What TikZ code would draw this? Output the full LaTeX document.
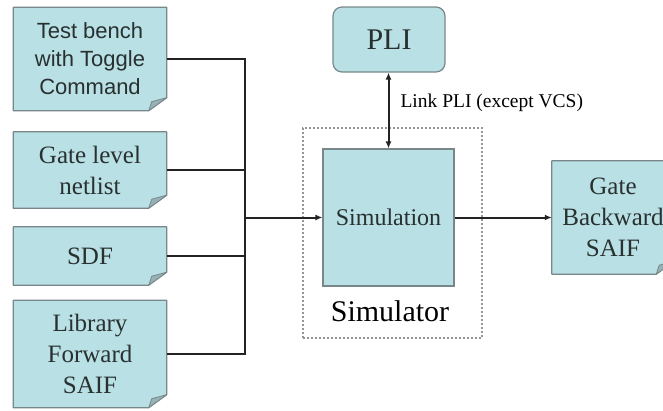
\documentclass[tikz,border=0pt]{standalone}
\usepackage{fontspec}
\setmainfont{Liberation Serif}
\newfontfamily\boxsans{Liberation Sans}
\usetikzlibrary{arrows.meta,calc,backgrounds}

\definecolor{docfill}{RGB}{185,224,228}
\definecolor{docedge}{RGB}{120,136,138}
\definecolor{foldfill}{RGB}{150,178,182}
\definecolor{wirecol}{RGB}{35,35,35}
\definecolor{frameedge}{RGB}{150,150,150}
\definecolor{textcol}{RGB}{40,48,48}

\tikzset{
  docnode/.style={minimum width=153pt, inner sep=0pt, align=center, text=textcol,
                  font=\fontsize{25}{31}\selectfont},
  docline/.style={draw=docedge, line width=1.2pt, fill=docfill, line join=round},
  foldline/.style={draw=docedge, line width=0.8pt, fill=foldfill, line join=round},
  simbox/.style={draw=docedge, line width=1.2pt, fill=docfill, inner sep=0pt,
                 text=textcol, font=\fontsize{24}{28}\selectfont},
  wire/.style={draw=wirecol, line width=2.4pt},
  arrowwire/.style={wire, line width=2pt, -{Latex[length=7pt,width=6pt]}},
  frame/.style={draw=frameedge, line width=1.1pt, dash pattern=on 2pt off 2pt}
}

\begin{document}
\begin{tikzpicture}[x=1pt,y=-1pt]
  \useasboundingbox (0,0) rectangle (663,410);

  % input documents
  \node[docnode, minimum height=103pt,
        font=\boxsans\fontsize{22}{28}\selectfont] (b1) at (90,59)
        {Test bench\\with Toggle\\Command};
  \node[docnode, minimum height=76pt] (b2) at (90,170) {Gate level\\netlist};
  \node[docnode, minimum height=58pt] (b3) at (90,256) {SDF};
  \node[docnode, minimum height=107pt] (b4) at (90,354) {Library\\Forward\\SAIF};

  % output document (runs past the right edge)
  \node[docnode, minimum width=122pt, minimum height=113pt] (gs) at (613,217.5)
        {Gate\\Backward\\SAIF};

  % simulator and PLI
  \node[simbox, minimum width=131pt, minimum height=137pt] (sim) at (388.5,217.5)
        {Simulation};
  \node[simbox, rounded corners=9pt, minimum width=112pt, minimum height=65pt,
        font=\fontsize{30}{34}\selectfont] (pli) at (389,39.5) {PLI};
  \node[frame, minimum width=179pt, minimum height=210pt, inner sep=0pt] (simr)
        at (392.5,233) {};
  \node[font=\fontsize{30}{34}\selectfont] (simlbl) at (390,311) {Simulator};
  \node[anchor=west, font=\fontsize{19.5}{22}\selectfont] (linklbl) at (397,103)
        {Link PLI (except VCS)};

  % document outlines with folded corner
  \begin{scope}[on background layer]
    \foreach \n in {b1,b2,b3,b4,gs} {
      \path[docline] (\n.north west) -- (\n.north east)
        -- ($(\n.south east)+(0,-13)$) -- ($(\n.south east)+(-18,0)$)
        -- (\n.south west) -- cycle;
      \path[foldline] ($(\n.south east)+(0,-13)$) -- ($(\n.south east)+(-18,0)$)
        -- ($(\n.south east)+(-15,-9)$) -- cycle;
    }
  \end{scope}

  % input bus
  \coordinate (jn) at (245,217.5);
  \draw[wire] (b1.east) -| (jn);
  \draw[wire] (b4.east) -| (jn);
  \draw[wire] (b2.east) -- (b2.east -| jn);
  \draw[wire] (b3.east) -- (b3.east -| jn);
  \draw[arrowwire] (jn) -- (sim.west);

  % output and PLI link
  \draw[arrowwire] (sim.east) -- (gs.west);
  \draw[wire, line width=2pt, {Latex[length=7pt,width=6pt]}-{Latex[length=7pt,width=6pt]}]
        (pli.south -| sim.north) -- (sim.north);
\end{tikzpicture}
\end{document}
